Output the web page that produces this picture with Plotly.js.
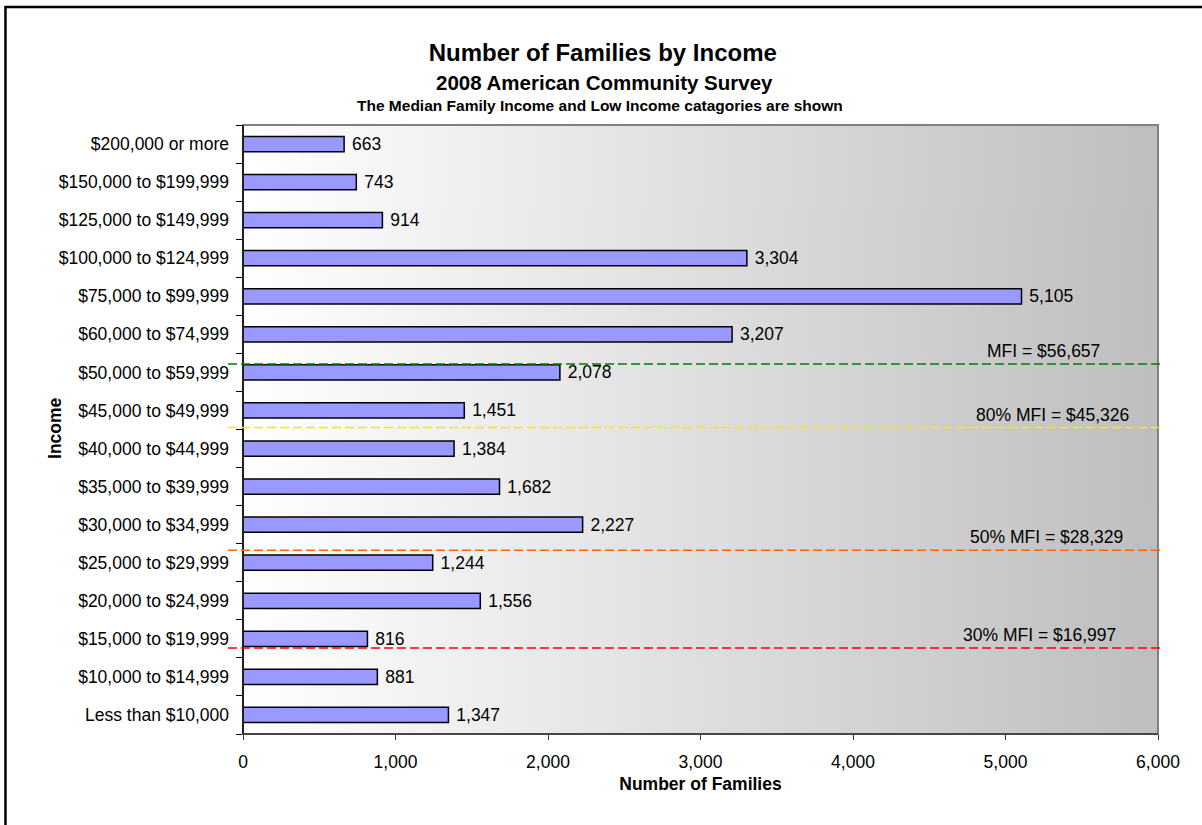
<!DOCTYPE html>
<html>
<head>
<meta charset="utf-8">
<script src="https://cdn.plot.ly/plotly-3.0.1.min.js"></script>
<style>
html,body{margin:0;padding:0;background:#fff;}
#chart{width:1202px;height:825px;}
</style>
</head>
<body>
<div id="chart"></div>
<script>
// ---- data ----
const categories = [
  "Less than $10,000", "$10,000 to $14,999", "$15,000 to $19,999", "$20,000 to $24,999",
  "$25,000 to $29,999", "$30,000 to $34,999", "$35,000 to $39,999", "$40,000 to $44,999",
  "$45,000 to $49,999", "$50,000 to $59,999", "$60,000 to $74,999", "$75,000 to $99,999",
  "$100,000 to $124,999", "$125,000 to $149,999", "$150,000 to $199,999", "$200,000 or more"
];
const families = [1347, 881, 816, 1556, 1244, 2227, 1682, 1384, 1451, 2078, 3207, 5105, 3304, 914, 743, 663];

const thresholdLabels = ["MFI = $56,657", "80% MFI = $45,326", "50% MFI = $28,329", "30% MFI = $16,997"];
// level of each threshold line on the category axis (category index units)
const thresholdLevels = [9.22, 7.55, 4.33, 1.76];
const xTickValues = [0, 1000, 2000, 3000, 4000, 5000, 6000];

// ---- styling ----
const FONT = "Liberation Sans, Arial, Helvetica, sans-serif";
const thresholdColors = ["#008000", "#EEEE00", "#FF6600", "#FF0000"];
const labelCenters = [5246, 5310, 5270, 5226];

// gradient background image for plot area
function gradientURL() {
  const c = document.createElement("canvas");
  c.width = 915; c.height = 4;
  const g = c.getContext("2d");
  const grd = g.createLinearGradient(0, 0, 915, 0);
  grd.addColorStop(0, "#FFFFFF");
  grd.addColorStop(1, "#BEBEBE");
  g.fillStyle = grd;
  g.fillRect(0, 0, 915, 4);
  return c.toDataURL();
}

const trace = {
  type: "bar",
  orientation: "h",
  y: categories,
  x: families,
  width: 0.4,
  marker: { color: "#9999FF", line: { color: "#000000", width: 1.5 } },
  text: families.map(v => "\u00A0" + v.toLocaleString("en-US")),
  textposition: "outside",
  constraintext: "none",
  cliponaxis: false,
  textfont: { family: FONT, size: 17.5, color: "#000" },
  hoverinfo: "x+y"
};

const shapes = [];
// outer chart border (extends past the picture on right/bottom)
shapes.push({
  type: "rect", xref: "paper", yref: "paper",
  x0: -0.2596, x1: 1.2, y0: -0.3, y1: 1.1937,
  line: { color: "#000", width: 2.5 }, fillcolor: "rgba(0,0,0,0)", layer: "below"
});
// plot frame (gray)
shapes.push({
  type: "rect", xref: "paper", yref: "paper",
  x0: 0, x1: 1, y0: 0, y1: 1,
  line: { color: "#808080", width: 2 }, fillcolor: "rgba(0,0,0,0)", layer: "above"
});
// left and bottom axis lines (dark)
shapes.push({ type: "line", xref: "paper", yref: "paper", x0: 0, x1: 0, y0: 0, y1: 1, line: { color: "#000", width: 1.5 } });
shapes.push({ type: "line", xref: "paper", yref: "paper", x0: 0, x1: 1, y0: 0, y1: 0, line: { color: "#333", width: 1.5 } });

thresholdLevels.forEach((lv, i) => {
  shapes.push({
    type: "line", xref: "paper", yref: "y",
    x0: -0.0164, x1: 1.003, y0: lv, y1: lv,
    line: { color: thresholdColors[i], width: 1.5, dash: "9px,4px" }
  });
});

const annotations = thresholdLabels.map((t, i) => ({
  text: t, xref: "x", yref: "y", x: labelCenters[i], y: thresholdLevels[i],
  xanchor: "center", yanchor: "middle", yshift: 13, showarrow: false,
  font: { family: FONT, size: 17.5, color: "#000" }
}));

annotations.push({
  text: "<b>2008 American Community Survey</b>", xref: "paper", yref: "paper",
  x: 0.3947, y: 1.069, xanchor: "center", yanchor: "middle", showarrow: false,
  font: { family: FONT, size: 20.5, color: "#000" }
});
annotations.push({
  text: "<b>The Median Family Income and Low Income catagories are shown</b>", xref: "paper", yref: "paper",
  x: 0.3907, y: 1.0328, xanchor: "center", yanchor: "middle", showarrow: false,
  font: { family: FONT, size: 15.5, color: "#000" }
});
annotations.push({
  text: "<b>Income</b>", xref: "paper", yref: "paper",
  x: -0.2055, y: 0.5025, xanchor: "center", yanchor: "middle", textangle: -90, showarrow: false,
  font: { family: FONT, size: 17.5, color: "#000" }
});

const layout = {
  width: 1202, height: 825,
  margin: { l: 243, r: 44, t: 125, b: 91, pad: 0 },
  paper_bgcolor: "#FFFFFF",
  plot_bgcolor: "rgba(0,0,0,0)",
  showlegend: false,
  font: { family: FONT, size: 17, color: "#000" },
  title: {
    text: "<b>Number of Families by Income</b>",
    font: { family: FONT, size: 24, color: "#000" },
    x: 0.5015, xref: "container", xanchor: "center",
    y: 1 - 53 / 825, yref: "container", yanchor: "middle"
  },
  xaxis: {
    range: [0, 6000],
    tickvals: xTickValues,
    ticktext: xTickValues.map(v => v.toLocaleString("en-US")),
    ticks: "outside", ticklen: 5, tickcolor: "#333", tickwidth: 1,
    showgrid: false, zeroline: false, showline: false,
    tickfont: { family: FONT, size: 17.5, color: "#000" },
    ticklabelstandoff: 7,
    title: { text: "<b>Number of Families</b>", font: { family: FONT, size: 17.5, color: "#000" }, standoff: 6 },
    fixedrange: true
  },
  yaxis: {
    type: "category",
    range: [-0.5, 15.5],
    tickson: "boundaries",
    ticks: "outside", ticklen: 6, tickcolor: "#000", tickwidth: 1,
    showgrid: false, zeroline: false, showline: false,
    tickfont: { family: FONT, size: 17.5, color: "#000" },
    ticklabelstandoff: 13,
    fixedrange: true
  },
  images: [{
    source: gradientURL(), xref: "paper", yref: "paper",
    x: 0, y: 1, sizex: 1, sizey: 1, sizing: "stretch",
    xanchor: "left", yanchor: "top", layer: "below"
  }],
  shapes: shapes,
  annotations: annotations
};

Plotly.newPlot("chart", [trace], layout, { displayModeBar: false, staticPlot: true });
</script>
</body>
</html>
